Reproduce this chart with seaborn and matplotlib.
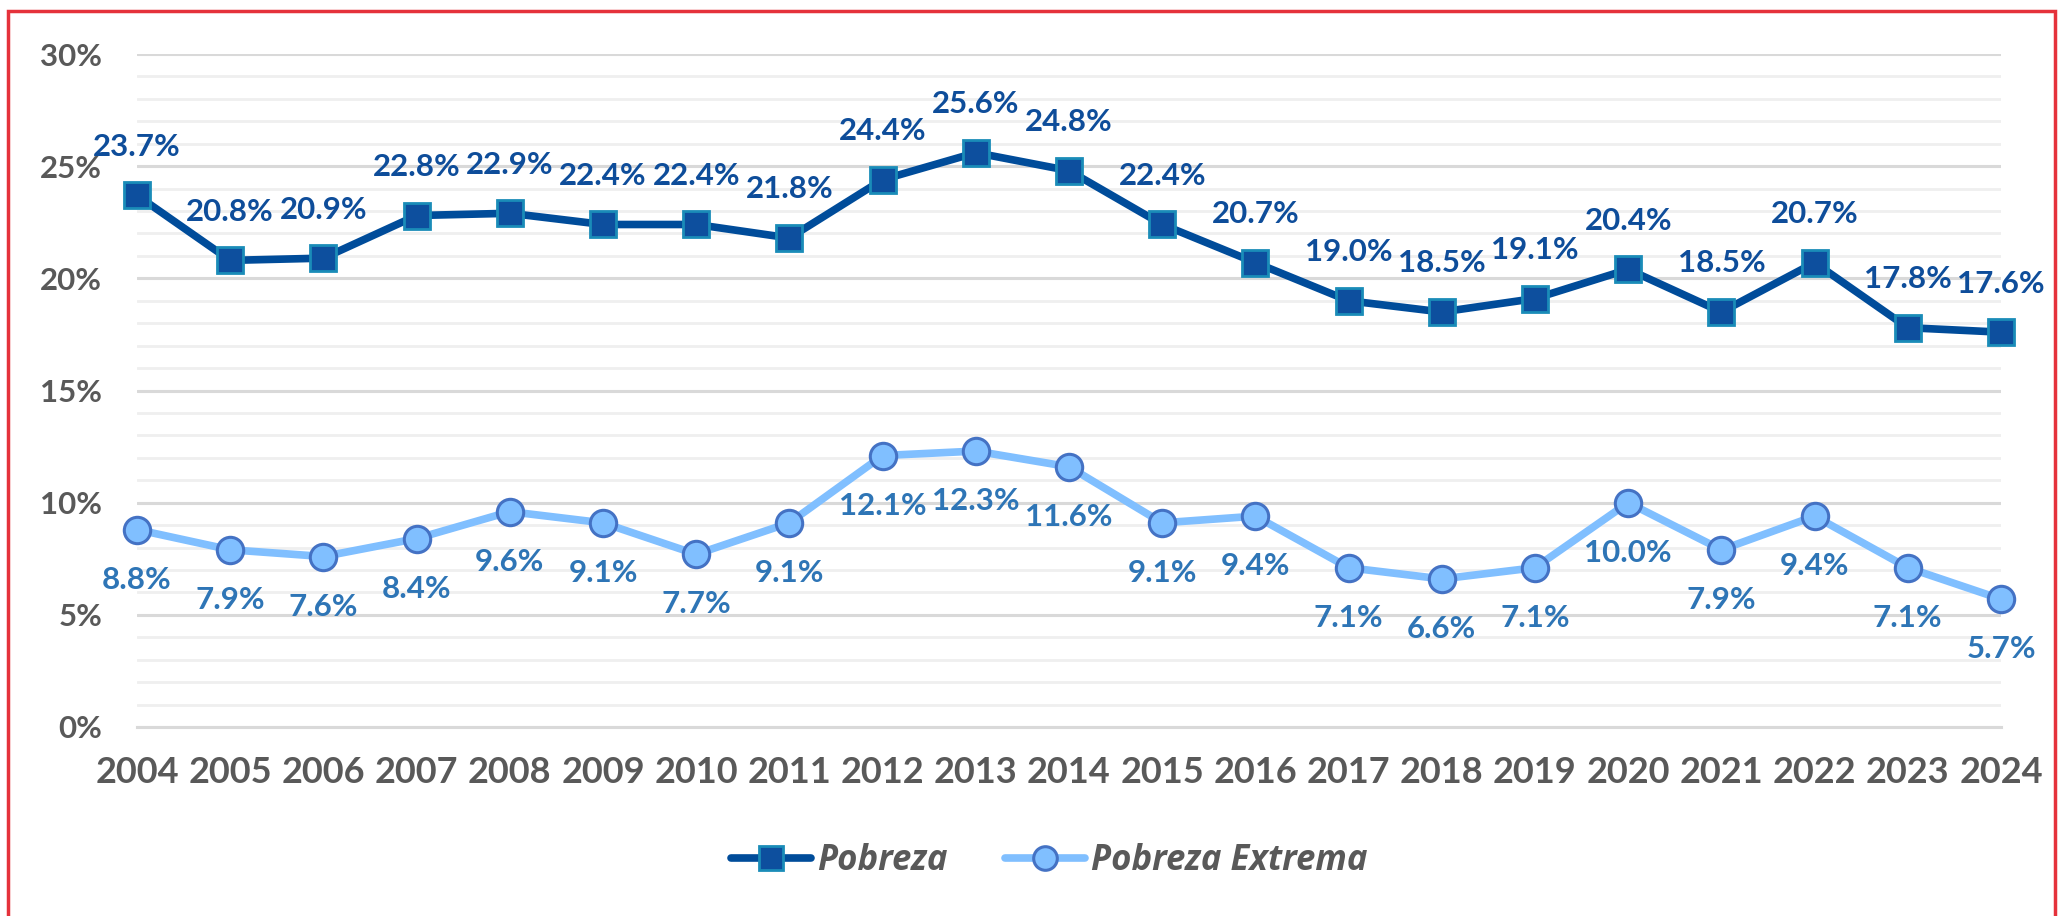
import numpy as np
import pandas as pd
import matplotlib
matplotlib.use("Agg")
import matplotlib.pyplot as plt
from matplotlib.patches import Rectangle
from matplotlib.ticker import MultipleLocator
import seaborn as sns

# --- Datos ---
anios = list(range(2004, 2025))
pobreza = [23.7, 20.8, 20.9, 22.8, 22.9, 22.4, 22.4, 21.8, 24.4, 25.6, 24.8,
           22.4, 20.7, 19.0, 18.5, 19.1, 20.4, 18.5, 20.7, 17.8, 17.6]
pobreza_extrema = [8.8, 7.9, 7.6, 8.4, 9.6, 9.1, 7.7, 9.1, 12.1, 12.3, 11.6,
                   9.1, 9.4, 7.1, 6.6, 7.1, 10.0, 7.9, 9.4, 7.1, 5.7]
series = ["Pobreza", "Pobreza Extrema"]

df = pd.DataFrame({"anio": anios, series[0]: pobreza, series[1]: pobreza_extrema})

# --- Estilo ---
sns.set_theme(style="white")
plt.rcParams["font.family"] = ["Lato", "DejaVu Sans"]
gris = "#595959"

fig = plt.figure(figsize=(20.59, 9.16), dpi=100)
ax = fig.add_axes([137 / 2059, 1 - 727 / 916, (2001 - 137) / 2059, (727 - 54) / 916])

# rejilla: menor cada 1%, mayor cada 5%
ax.yaxis.set_major_locator(MultipleLocator(5))
ax.yaxis.set_minor_locator(MultipleLocator(1))
ax.grid(which="minor", axis="y", color="#EFEFEF", lw=2.0, zorder=0)
ax.grid(which="major", axis="y", color="#D9D9D9", lw=2.2, zorder=0)
ax.set_axisbelow(True)

sns.lineplot(data=df, x="anio", y=series[0], ax=ax, color="#004C9A", lw=5.5,
             marker="s", markersize=19, markerfacecolor="#0D4F9E",
             markeredgecolor="#1A8CB8", markeredgewidth=2, label=series[0],
             clip_on=False, zorder=4)
sns.lineplot(data=df, x="anio", y=series[1], ax=ax, color="#80BFFF", lw=5.5,
             marker="o", markersize=19, markerfacecolor="#80BFFF",
             markeredgecolor="#4472C4", markeredgewidth=2.2, label=series[1],
             clip_on=False, zorder=3)

# etiquetas de datos
for x, v in zip(anios, pobreza):
    ax.annotate(f"{v:.1f}%", (x, v), xytext=(0, 35), textcoords="offset points",
                ha="center", va="center", fontsize=22.5, fontweight="bold",
                color="#0E4D9A", zorder=6)
for x, v in zip(anios, pobreza_extrema):
    ax.annotate(f"{v:.1f}%", (x, v), xytext=(0, -36), textcoords="offset points",
                ha="center", va="center", fontsize=22.5, fontweight="bold",
                color="#2E75B6", zorder=6)

ax.set_xlim(2004, 2024)
ax.set_ylim(0, 30)
ax.set_xticks(anios)
ax.set_xticklabels([str(a) for a in anios])
ax.set_yticklabels([f"{v:.0f}%" for v in ax.get_yticks()])
ax.set_xlabel("")
ax.set_ylabel("")

for s in ["top", "right", "left"]:
    ax.spines[s].set_visible(False)
ax.spines["bottom"].set_color("#D9D9D9")
ax.spines["bottom"].set_linewidth(2.2)

ax.tick_params(axis="x", which="major", length=8, width=2, color="#D9D9D9",
               direction="out", pad=13, labelsize=26, labelcolor=gris)
ax.tick_params(axis="y", which="both", length=0, pad=25, labelsize=22.5, labelcolor=gris)
for lbl in ax.get_xticklabels() + ax.get_yticklabels():
    lbl.set_fontweight("bold")

# leyenda
handles, labels = ax.get_legend_handles_labels()
ax.get_legend().remove()
leg = fig.legend(handles, labels, loc="center", bbox_to_anchor=(1049.5 / 2059, 1 - 861 / 916),
                 ncol=2, frameon=False, handlelength=2.3, handletextpad=0.18,
                 columnspacing=1.65,
                 prop={"family": ["Open Sans", "DejaVu Sans"], "size": 25,
                       "weight": "bold", "style": "italic"})
for t in leg.get_texts():
    t.set_color(gris)
for h in leg.legend_handles:
    h.set_markersize(17)

# marco rojo
fig.patches.append(Rectangle((8 / 2059, -0.05), (2055 - 8) / 2059, 1.05 - 11 / 916,
                             transform=fig.transFigure, fill=False,
                             edgecolor="#E5323B", lw=2.5))

fig.savefig("out.png", dpi=100)
